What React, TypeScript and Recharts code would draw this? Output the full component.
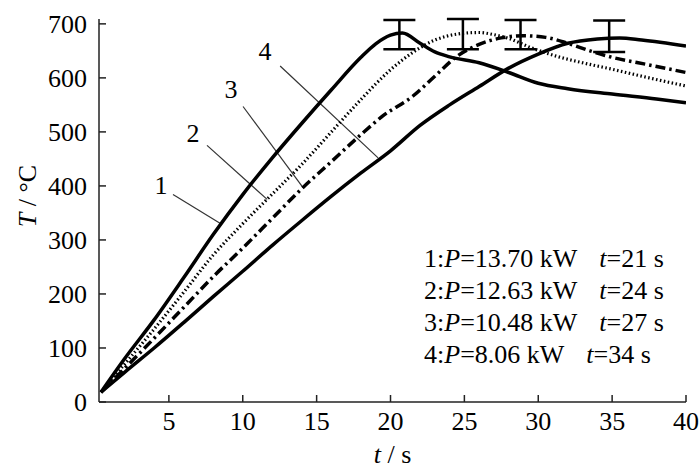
import React from "react";
import {
  ComposedChart,
  Line,
  Scatter,
  ErrorBar,
  XAxis,
  YAxis,
  ReferenceLine,
  ReferenceDot,
} from "recharts";

// heating curves, t in s, T in °C
const curve1 = [
  { t: 0.4, T: 18 }, { t: 2, T: 80 }, { t: 4, T: 152 }, { t: 6, T: 230 },
  { t: 8, T: 310 }, { t: 10, T: 384 }, { t: 12, T: 452 }, { t: 14, T: 516 },
  { t: 16, T: 578 }, { t: 18, T: 638 }, { t: 19, T: 663 }, { t: 20, T: 679 },
  { t: 20.8, T: 683 }, { t: 22, T: 664 }, { t: 23, T: 648 }, { t: 24, T: 639 },
  { t: 26, T: 628 }, { t: 28, T: 610 }, { t: 30, T: 590 }, { t: 32, T: 580 },
  { t: 35, T: 570 }, { t: 38, T: 561 }, { t: 40, T: 554 },
];
const curve2 = [
  { t: 0.4, T: 18 }, { t: 2, T: 70 }, { t: 4, T: 135 }, { t: 6, T: 203 },
  { t: 8, T: 272 }, { t: 10, T: 330 }, { t: 12, T: 385 }, { t: 14, T: 440 },
  { t: 16, T: 500 }, { t: 18, T: 560 }, { t: 20, T: 615 }, { t: 21.5, T: 647 },
  { t: 23, T: 670 }, { t: 24.5, T: 681 }, { t: 26, T: 684 }, { t: 27, T: 680 },
  { t: 28, T: 673 }, { t: 29.5, T: 656 }, { t: 31.5, T: 638 }, { t: 33, T: 628 },
  { t: 35, T: 616 }, { t: 37.5, T: 600 }, { t: 40, T: 585 },
];
const curve3 = [
  { t: 0.4, T: 18 }, { t: 2, T: 62 }, { t: 4, T: 118 }, { t: 6, T: 175 },
  { t: 8, T: 232 }, { t: 10, T: 285 }, { t: 12, T: 340 }, { t: 14, T: 395 },
  { t: 16, T: 445 }, { t: 18, T: 495 }, { t: 19.5, T: 530 }, { t: 21.5, T: 566 },
  { t: 23, T: 603 }, { t: 24.5, T: 640 }, { t: 26, T: 662 }, { t: 27.5, T: 674 },
  { t: 29, T: 678 }, { t: 30.5, T: 675 }, { t: 32, T: 664 }, { t: 33.5, T: 650 },
  { t: 35, T: 638 }, { t: 37.5, T: 624 }, { t: 40, T: 610 },
];
const curve4 = [
  { t: 0.4, T: 18 }, { t: 2, T: 55 }, { t: 4, T: 100 }, { t: 6, T: 147 },
  { t: 8, T: 195 }, { t: 10, T: 242 }, { t: 12, T: 290 }, { t: 14, T: 336 },
  { t: 16, T: 381 }, { t: 18, T: 424 }, { t: 20, T: 465 }, { t: 22, T: 512 },
  { t: 24, T: 550 }, { t: 26, T: 584 }, { t: 28, T: 618 }, { t: 30, T: 644 },
  { t: 32, T: 664 }, { t: 34, T: 672 }, { t: 35.5, T: 674 }, { t: 37, T: 670 },
  { t: 40, T: 659 },
];

// peak temperatures with scatter
const peaks = [
  { t: 20.6, T: 680, err: 27 },
  { t: 24.9, T: 681, err: 28 },
  { t: 28.8, T: 680, err: 27 },
  { t: 34.8, T: 677, err: 29 },
];

// curve number labels and their leader lines
const curveLabels = [
  { name: "1", t: 4.47, T: 402 },
  { name: "2", t: 6.63, T: 499 },
  { name: "3", t: 9.21, T: 580 },
  { name: "4", t: 11.5, T: 650 },
];
const leaders = [
  [{ x: 5.28, y: 384 }, { x: 8.46, y: 331 }],
  [{ x: 7.58, y: 475 }, { x: 11.65, y: 375 }],
  [{ x: 10.02, y: 547 }, { x: 14.08, y: 397 }],
  [{ x: 12.53, y: 622 }, { x: 19.16, y: 452 }],
];

const legendIds = ["1", "2", "3", "4"];
const legendPower = ["13.70", "12.63", "10.48", "8.06"];
const legendTime = ["21", "24", "27", "34"];

const xTicks = [5, 10, 15, 20, 25, 30, 35, 40];
const yTicks = [0, 100, 200, 300, 400, 500, 600, 700];

const FONT = "Liberation Serif";
const tickStyle = { fill: "#000", fontSize: 26, fontFamily: FONT };

const YTitle = (props: any) => {
  const vb = props.viewBox || { x: 0, y: 19 };
  const cx = vb.x + 27;
  const cy = vb.y + 177;
  return (
    <text
      x={cx}
      y={cy}
      transform={`rotate(-90 ${cx} ${cy})`}
      textAnchor="middle"
      dominantBaseline="central"
      fontFamily={FONT}
      fontSize={26}
      fill="#000"
    >
      <tspan fontStyle="italic">T</tspan> / °C
    </text>
  );
};

const XTitle = (props: any) => {
  const vb = props.viewBox || { x: 99, y: 402, width: 587 };
  return (
    <text
      x={vb.x + vb.width / 2}
      y={vb.y + 61}
      textAnchor="middle"
      fontFamily={FONT}
      fontSize={26}
      fill="#000"
    >
      <tspan fontStyle="italic">t</tspan> / s
    </text>
  );
};

export default function App() {
  return (
    <div style={{ position: "relative", width: 700, height: 472 }}>
      <style>{`body{margin:0}`}</style>
      <ComposedChart
        width={700}
        height={472}
        margin={{ top: 19, right: 14, bottom: 0, left: 0 }}
      >
        <XAxis
          type="number"
          dataKey="t"
          domain={[0.27, 40]}
          allowDataOverflow
          ticks={xTicks}
          height={70}
          tickSize={-7}
          tickMargin={17}
          tick={tickStyle}
          axisLine={{ stroke: "#222", strokeWidth: 1.5 }}
          tickLine={{ stroke: "#222", strokeWidth: 1.5 }}
          label={{ content: XTitle }}
        />
        <YAxis
          type="number"
          dataKey="T"
          domain={[0, 700]}
          ticks={yTicks}
          width={99}
          tickSize={-7}
          tickMargin={19}
          tick={tickStyle}
          axisLine={{ stroke: "#222", strokeWidth: 1.5 }}
          tickLine={{ stroke: "#222", strokeWidth: 1.5 }}
          label={{ content: YTitle }}
        />
        {leaders.map((seg, i) => (
          <ReferenceLine
            key={`l${i}`}
            segment={seg}
            stroke="#333"
            strokeWidth={1.2}
            ifOverflow="visible"
          />
        ))}
        {curveLabels.map((c) => (
          <ReferenceDot
            key={`c${c.name}`}
            x={c.t}
            y={c.T}
            r={0}
            fill="none"
            stroke="none"
            ifOverflow="visible"
            label={{
              value: c.name,
              position: "center",
              fill: "#000",
              fontSize: 26,
              fontFamily: FONT,
            }}
          />
        ))}
        <Line
          data={curve4}
          dataKey="T"
          type="monotone"
          stroke="#000"
          strokeWidth={3.5}
          dot={false}
          isAnimationActive={false}
        />
        <Line
          data={curve3}
          dataKey="T"
          type="monotone"
          stroke="#000"
          strokeWidth={3.5}
          strokeDasharray="10 4 2.5 4"
          dot={false}
          isAnimationActive={false}
        />
        <Line
          data={curve2}
          dataKey="T"
          type="monotone"
          stroke="#000"
          strokeWidth={3.2}
          strokeDasharray="1.5 2.5"
          dot={false}
          isAnimationActive={false}
        />
        <Line
          data={curve1}
          dataKey="T"
          type="monotone"
          stroke="#000"
          strokeWidth={3.5}
          dot={false}
          isAnimationActive={false}
        />
        <Scatter
          data={peaks}
          dataKey="T"
          shape={() => <g />}
          isAnimationActive={false}
        >
          <ErrorBar
            dataKey="err"
            direction="y"
            width={16}
            stroke="#000"
            strokeWidth={2.5}
            isAnimationActive={false}
          />
        </Scatter>
      </ComposedChart>
      <div
        style={{
          position: "absolute",
          left: 424,
          top: 243,
          fontFamily: FONT,
          fontSize: 26,
          lineHeight: "32px",
          color: "#000",
          whiteSpace: "nowrap",
        }}
      >
        {legendIds.map((id, i) => (
          <div key={id}>
            {id}:<i>P</i>={legendPower[i]} kW
            <span style={{ marginLeft: 22 }}>
              <i>t</i>={legendTime[i]} s
            </span>
          </div>
        ))}
      </div>
    </div>
  );
}
